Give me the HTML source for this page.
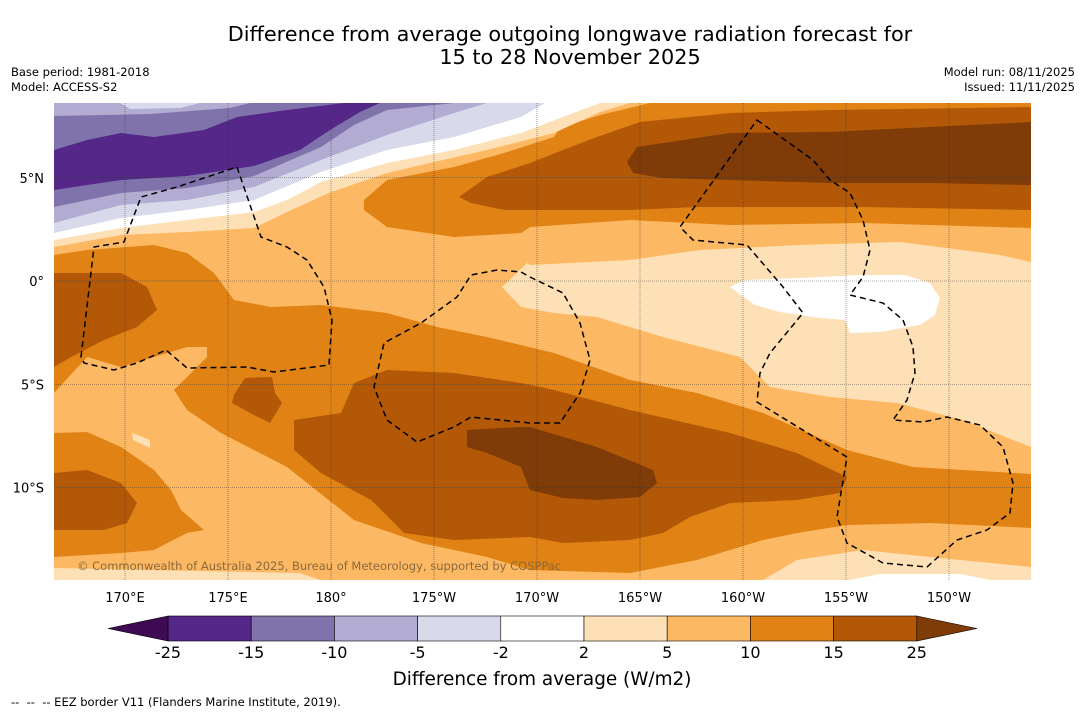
<!DOCTYPE html>
<html><head><meta charset="utf-8"><style>
body{margin:0;background:#fff;width:1085px;height:713px;overflow:hidden;font-family:"DejaVu Sans","Liberation Sans",sans-serif}
</style></head><body>
<svg width="1085" height="713" viewBox="0 0 1085 713" xmlns="http://www.w3.org/2000/svg" font-family="DejaVu Sans, Liberation Sans, sans-serif">
<text x="570" y="41" text-anchor="middle" font-size="20.8">Difference from average outgoing longwave radiation forecast for</text>
<text x="570" y="64" text-anchor="middle" font-size="20.8">15 to 28 November 2025</text>
<text x="11" y="76" font-size="11.5">Base period: 1981-2018</text>
<text x="11" y="91" font-size="11.5">Model: ACCESS-S2</text>
<text x="1075" y="76" font-size="11.5" text-anchor="end">Model run: 08/11/2025</text>
<text x="1075" y="91" font-size="11.5" text-anchor="end">Issued: 11/11/2025</text>
<defs><clipPath id="mc"><rect x="54" y="103" width="977" height="477"/></clipPath></defs>
<g clip-path="url(#mc)">
<rect x="54" y="103" width="977" height="477" fill="#fdb863"/>
<path fill="#e08214" d="M364,210 L364,200 387,180 454,167 504,153 554,137 560,128 600,115 650,103 1031,103 1031,228 863,223 730,225 630,220 530,227 521,233 454,237 387,227Z"/>
<path fill="#b35806" d="M471,203 L459,197 487,177 530,163 563,150 597,137 640,122 730,113 830,110 1031,107 1031,210 863,207 697,207 630,210 504,210Z"/>
<path fill="#7f3b08" d="M627,162 L637,147 730,133 830,132 930,127 1031,122 1031,185 930,183 830,183 730,180 663,178 633,173Z"/>
<path fill="#fee0b6" d="M54,103 L630,103 600,112 554,133 487,150 434,162 387,173 331,192 287,212 254,228 187,232 121,235 54,247Z"/>
<path fill="#ffffff" d="M54,103 L600,103 560,118 521,133 454,150 387,163 321,182 287,200 254,212 187,220 121,228 54,240Z"/>
<path fill="#d8daeb" d="M54,103 L545,103 521,117 454,137 387,150 321,172 254,200 187,210 121,218 54,233Z"/>
<path fill="#b2abd2" d="M54,103 L487,103 454,113 387,135 321,160 254,187 187,200 121,205 54,223Z"/>
<path fill="#8073ac" d="M54,103 L454,103 387,110 354,125 321,147 254,176 187,188 121,193 54,207Z"/>
<path fill="#b2abd2" d="M54,103 L250,103 230,108 150,114 54,116Z"/>
<path fill="#d8daeb" d="M120,103 L200,103 180,108 130,109Z"/>
<path fill="#542788" d="M54,150 L87,140 121,133 154,137 204,130 237,117 287,110 344,103 380,103 360,112 330,130 300,150 254,166 187,176 121,180 54,190Z"/>
<path fill="#fee0b6" d="M502,287 L527,263 530,265 630,260 700,250 800,245 900,242 1000,255 1031,262 1031,447 963,420 897,403 830,397 770,387 740,357 663,337 597,317 554,313 521,307Z"/>
<path fill="#ffffff" d="M730,287 L745,280 800,278 860,275 905,275 930,283 940,298 935,315 920,325 880,332 850,333 845,320 820,318 780,312 755,305 745,298Z"/>
<path fill="#e08214" d="M54,255 L87,250 154,245 187,253 214,273 234,300 271,307 321,305 387,313 437,327 487,337 554,353 630,380 697,393 763,413 847,450 913,467 963,470 1031,474 1031,528 930,523 847,525 797,533 763,540 697,560 630,573 530,570 487,557 421,543 354,520 287,467 254,450 221,433 187,410 174,390 207,357 207,347 187,347 154,357 121,367 87,357 54,393Z"/>
<path fill="#b35806" d="M54,273 L121,273 147,287 157,310 137,327 104,340 71,357 54,367Z"/>
<path fill="#b35806" d="M234,395 L245,378 272,377 275,393 282,403 270,423 254,415 232,403Z"/>
<path fill="#b35806" d="M294,420 L341,413 354,383 387,370 454,373 521,383 554,390 630,410 730,433 797,453 847,477 840,493 797,500 730,503 690,517 663,533 630,540 563,543 530,537 454,540 404,533 371,500 321,473 294,450Z"/>
<path fill="#7f3b08" d="M467,430 L521,427 530,427 597,447 653,470 657,483 640,497 597,500 563,498 530,490 521,467 487,453 467,447Z"/>
<path fill="#e08214" d="M54,433 L87,432 121,447 154,470 171,490 181,510 204,530 187,533 154,550 121,553 54,557Z"/>
<path fill="#b35806" d="M54,473 L87,470 121,483 137,503 127,523 104,530 54,530Z"/>
<path fill="#fee0b6" d="M132,433 L150,440 150,448 133,440Z"/>
<path fill="#fee0b6" d="M54,568 L300,573 320,580 54,580Z"/>
<path fill="#fee0b6" d="M763,580 L797,560 863,550 930,557 1031,567 1031,580Z"/>
<path fill="#ffffff" d="M850,580 L880,574 960,574 990,580Z"/>
<g stroke="#333" stroke-width="0.6" stroke-dasharray="1,1" opacity="0.8" id="grid"></g>
<g fill="none" stroke="#000" stroke-width="1.5" stroke-dasharray="6,4">
<path d="M81,357 L94,247 124,242 141,197 177,187 237,167 261,237 287,247 307,260 324,287 332,320 329,365 274,372 247,367 187,368 166,350 137,363 114,370 84,363Z"/>
<path d="M530,277 L563,293 580,323 590,360 580,393 560,423 530,423 471,417 454,427 417,442 387,420 374,387 384,343 421,323 457,297 471,275 497,270 521,272Z"/>
<path d="M757,120 L813,160 830,180 850,193 863,220 870,250 863,277 850,295 883,303 903,320 913,347 915,373 907,400 893,420 923,422 947,417 980,425 1003,447 1013,483 1010,513 987,530 957,540 927,567 883,563 847,543 837,517 847,457 757,402 760,373 770,353 803,313 783,287 747,245 693,240 680,227Z"/>
</g>
<text x="77" y="570" font-size="11.5" fill="#8a6a3a">© Commonwealth of Australia 2025, Bureau of Meteorology, supported by COSPPac</text>
</g>
<g id="axes"></g>
<g id="cbar"></g>
<text x="542" y="685" text-anchor="middle" font-size="18.4">Difference from average (W/m2)</text>
<text x="11" y="706" font-size="11.5">-- &#160;-- &#160;-- EEZ border V11 (Flanders Marine Institute, 2019).</text>
</svg>
<script>
const lonTicks=[170,175,180,-175,-170,-165,-160,-155,-150];
const lonLabels=["170°E","175°E","180°","175°W","170°W","165°W","160°W","155°W","150°W"];
const latTicks=[5,0,-5,-10];
const latLabels=["5°N","0°","5°S","10°S"];
const levels=["-25","-15","-10","-5","-2","2","5","10","15","25"];
const colors=["#542788","#8073ac","#b2abd2","#d8daeb","#ffffff","#fee0b6","#fdb863","#e08214","#b35806"];
const extColors=["#3f0a54","#7f3b08"];
const NS="http://www.w3.org/2000/svg";
function xLon(l){let d=l<0?l+360:l;return 125+(d-170)*20.6;}
function yLat(v){return 281-v*20.65;}
function mk(t,a,p){const e=document.createElementNS(NS,t);for(const k in a)e.setAttribute(k,a[k]);p.appendChild(e);return e;}
const grid=document.getElementById('grid'),axes=document.getElementById('axes'),cb=document.getElementById('cbar');
lonTicks.forEach((l,i)=>{const x=xLon(l);
const g=mk('line',{x1:x,x2:x,y1:103,y2:580},grid);


const t=mk('text',{x:x,y:602,'text-anchor':'middle','font-size':13},axes);t.textContent=lonLabels[i];

});
latTicks.forEach((v,i)=>{const y=yLat(v);
const g=mk('line',{x1:54,x2:1031,y1:y,y2:y},grid);


const t=mk('text',{x:44,y:y+5,'text-anchor':'end','font-size':13},axes);t.textContent=latLabels[i];

});
const x0=168,w=83.2,y0=616,h=25;
colors.forEach((c,i)=>{const r=mk('rect',{x:x0+i*w,y:y0,width:w,height:h,fill:c,stroke:'#000','stroke-width':0.6},cb);

});
const xe=x0+colors.length*w;
const l1=mk('polygon',{points:`${x0},${y0} 108,${y0+h/2} ${x0},${y0+h}`,fill:extColors[0],stroke:'#000','stroke-width':0.6},cb);


const l2=mk('polygon',{points:`${xe},${y0} 977,${y0+h/2} ${xe},${y0+h}`,fill:extColors[1],stroke:'#000','stroke-width':0.6},cb);


levels.forEach((s,i)=>{const t=mk('text',{x:x0+i*w,y:658,'text-anchor':'middle','font-size':16},cb);t.textContent=s;

});
</script>
</body></html>
